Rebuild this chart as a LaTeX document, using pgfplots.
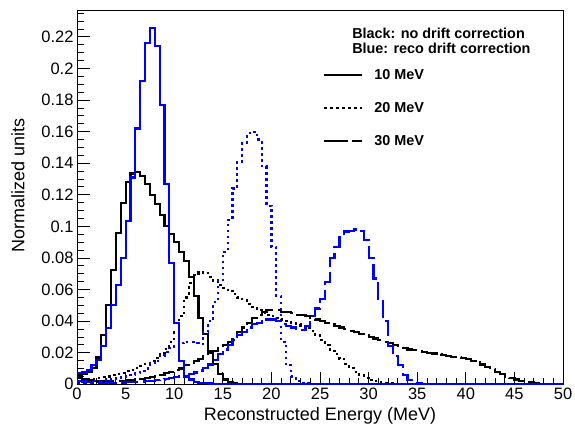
\documentclass[border=0pt]{standalone}
\usepackage{pgfplots}
\pgfplotsset{compat=1.18}
\usepackage{pgfplotstable}
\usepackage{fontspec}
\setmainfont{Liberation Sans}
\definecolor{rootblue}{RGB}{0,0,255}

\pgfplotstableread{
E b10 u10 b20 u20 b30 u30
0 0.006 0.007 0.002 0.001 0.004 0.002
0.5 0.0066 0.0075 0.0025 0.001 0.003 0.0018
1 0.0076 0.009 0.003 0.0015 0.0025 0.0015
1.5 0.0105 0.012 0.0035 0.002 0.002 0.0012
2 0.017 0.0156 0.004 0.002 0.0018 0.001
2.5 0.031 0.024 0.0045 0.0025 0.0018 0.001
3 0.050 0.0356 0.005 0.003 0.0018 0.001
3.5 0.0725 0.050 0.0057 0.0035 0.002 0.001
4 0.0957 0.063 0.0065 0.004 0.002 0.001
4.5 0.1146 0.080 0.0073 0.0045 0.0022 0.0012
5 0.128 0.1035 0.0082 0.005 0.0025 0.0013
5.5 0.1335 0.131 0.0092 0.006 0.0028 0.0015
6 0.1345 0.162 0.0103 0.007 0.003 0.0016
6.5 0.132 0.192 0.0115 0.0085 0.0035 0.0018
7 0.127 0.216 0.013 0.010 0.004 0.002
7.5 0.120 0.2255 0.0145 0.0125 0.0045 0.0022
8 0.114 0.214 0.0165 0.015 0.005 0.0025
8.5 0.107 0.177 0.019 0.018 0.006 0.003
9 0.100 0.127 0.0225 0.0205 0.007 0.0035
9.5 0.095 0.077 0.027 0.023 0.008 0.004
10 0.090 0.039 0.033 0.0245 0.009 0.0045
10.5 0.084 0.0145 0.043 0.026 0.010 0.005
11 0.078 0.005 0.055 0.027 0.012 0.0055
11.5 0.068 0.003 0.064 0.027 0.0135 0.0065
12 0.056 0.0015 0.069 0.026 0.015 0.0075
12.5 0.042 0.001 0.071 0.0255 0.016 0.0088
13 0.032 0.0007 0.0705 0.033 0.018 0.0105
13.5 0.021 0.0005 0.068 0.040 0.020 0.0125
14 0.013 0.0004 0.065 0.052 0.021 0.0155
14.5 0.0065 0.0003 0.063 0.066 0.023 0.019
15 0.003 0.0002 0.061 0.084 0.025 0.022
15.5 0.0012 0.0001 0.059 0.104 0.027 0.025
16 0.0005 0 0.057 0.124 0.030 0.028
16.5 0.0002 0 0.055 0.141 0.033 0.031
17 0 0 0.053 0.153 0.036 0.033
17.5 0 0 0.051 0.159 0.039 0.036
18 0 0 0.049 0.160 0.042 0.038
18.5 0 0 0.047 0.155 0.044 0.039
19 0 0 0.0455 0.138 0.046 0.040
19.5 0 0 0.044 0.113 0.047 0.041
20 0 0 0.043 0.087 0.047 0.041
20.5 0 0 0.042 0.056 0.047 0.040
21 0 0 0.041 0.027 0.046 0.038
21.5 0 0 0.040 0.012 0.046 0.037
22 0 0 0.039 0.005 0.045 0.036
22.5 0 0 0.038 0.002 0.044 0.035
23 0 0 0.037 0.001 0.044 0.0345
23.5 0 0 0.0355 0.0005 0.043 0.037
24 0 0 0.034 0.0003 0.042 0.043
24.5 0 0 0.031 0.0002 0.041 0.048
25 0 0 0.028 0.0001 0.040 0.054
25.5 0 0 0.025 0 0.039 0.065
26 0 0 0.022 0 0.038 0.080
26.5 0 0 0.019 0 0.037 0.087
27 0 0 0.016 0 0.036 0.0935
27.5 0 0 0.013 0 0.035 0.0967
28 0 0 0.0105 0 0.034 0.097
28.5 0 0 0.008 0 0.033 0.098
29 0 0 0.006 0 0.032 0.097
29.5 0 0 0.0042 0 0.031 0.0914
30 0 0 0.0028 0 0.030 0.080
30.5 0 0 0.0019 0 0.029 0.067
31 0 0 0.0012 0 0.028 0.0525
31.5 0 0 0.0008 0 0.027 0.040
32 0 0 0.0005 0 0.026 0.024
32.5 0 0 0.0003 0 0.025 0.018
33 0 0 0.0002 0 0.024 0.012
33.5 0 0 0.0001 0 0.023 0.006
34 0 0 0 0 0.022 0.0025
34.5 0 0 0 0 0.0215 0.001
35 0 0 0 0 0.021 0.0005
35.5 0 0 0 0 0.0205 0.0003
36 0 0 0 0 0.020 0.0002
36.5 0 0 0 0 0.0195 0.0001
37 0 0 0 0 0.019 0
37.5 0 0 0 0 0.0185 0
38 0 0 0 0 0.018 0
38.5 0 0 0 0 0.0175 0
39 0 0 0 0 0.017 0
39.5 0 0 0 0 0.0165 0
40 0 0 0 0 0.016 0
40.5 0 0 0 0 0.015 0
41 0 0 0 0 0.014 0
41.5 0 0 0 0 0.0125 0
42 0 0 0 0 0.011 0
42.5 0 0 0 0 0.0095 0
43 0 0 0 0 0.008 0
43.5 0 0 0 0 0.0065 0
44 0 0 0 0 0.005 0
44.5 0 0 0 0 0.004 0
45 0 0 0 0 0.003 0
45.5 0 0 0 0 0.0022 0
46 0 0 0 0 0.0016 0
46.5 0 0 0 0 0.0011 0
47 0 0 0 0 0.0007 0
47.5 0 0 0 0 0.0004 0
48 0 0 0 0 0.0002 0
48.5 0 0 0 0 0.0001 0
49 0 0 0 0 0.0001 0
49.5 0 0 0 0 0 0
50 0 0 0 0 0 0
}\histdata

\begin{document}
\begin{tikzpicture}
\useasboundingbox (0,0) rectangle (575pt,425pt);
\begin{axis}[
  at={(77pt,40.7pt)}, anchor=south west,
  scale only axis, width=486pt, height=374.3pt,
  xmin=0, xmax=50, ymin=0, ymax=0.237,
  axis line style={line width=0.9pt},
  xtick={0,5,10,15,20,25,30,35,40,45,50},
  minor xtick={0,1,...,50},
  ytick={0,0.02,0.04,0.06,0.08,0.1,0.12,0.14,0.16,0.18,0.2,0.22},
  minor ytick={0,0.005,...,0.236},
  xtick pos=bottom, ytick pos=left,
  tick align=inside,
  major tick length=12.5pt, minor tick length=6.5pt,
  every tick/.style={black, line width=0.8pt},
  scaled y ticks=false,
  yticklabel style={/pgf/number format/fixed, /pgf/number format/precision=2},
  /pgf/number format/assume math mode=true,
  tick label style={font=\fontsize{16.5}{18}\selectfont},
  xlabel={Reconstructed Energy (MeV)},
  ylabel={Normalized units},
  label style={font=\fontsize{18}{20}\selectfont},
  xlabel style={at={(axis description cs:0.5,-0.0954)}, anchor=base},
  ylabel style={at={(axis description cs:-0.1214,0.53)}, anchor=center},
  no markers,
  legend style={draw=none, fill=none, at={(axis description cs:0.506,0.847)}, anchor=north west,
    font=\fontsize{14.4}{16}\bfseries\selectfont, row sep=17.5pt, inner sep=0pt,
    cells={anchor=west}},
  legend image code/.code={\draw[#1] (0pt,0pt) -- (38pt,0pt); \path (47pt,0pt);},
]
\addplot[const plot, black, line width=2.2pt, forget plot] table[x=E,y=b10]{\histdata};
\addplot[const plot, black, line width=2.2pt, dash pattern=on 2.5pt off 3.5pt, forget plot] table[x=E,y=b20]{\histdata};
\addplot[const plot, black, line width=2.2pt, dash pattern=on 18pt off 5pt, forget plot] table[x=E,y=b30]{\histdata};
\addplot[const plot, rootblue, line width=2.2pt, forget plot] table[x=E,y=u10]{\histdata};
\addplot[const plot, rootblue, line width=2.2pt, dash pattern=on 2.5pt off 3.5pt, forget plot] table[x=E,y=u20]{\histdata};
\addplot[const plot, rootblue, line width=2.2pt, dash pattern=on 18pt off 5pt, forget plot] table[x=E,y=u30]{\histdata};

\addlegendimage{black, line width=2.2pt}
\addlegendentry{10 MeV}
\addlegendimage{black, line width=2.2pt, dash pattern=on 2.5pt off 3.5pt}
\addlegendentry{20 MeV}
\addlegendimage{black, line width=2.2pt, dash pattern=on 24pt off 4pt}
\addlegendentry{30 MeV}

\node[anchor=base west, inner sep=0pt, font=\fontsize{14.4}{16}\bfseries\selectfont] at (rel axis cs:0.566,0.9244) {Black: no drift correction};
\node[anchor=base west, inner sep=0pt, font=\fontsize{14.4}{16}\bfseries\selectfont] at (rel axis cs:0.566,0.8843) {Blue: reco drift correction};
\end{axis}
\end{tikzpicture}
\end{document}
